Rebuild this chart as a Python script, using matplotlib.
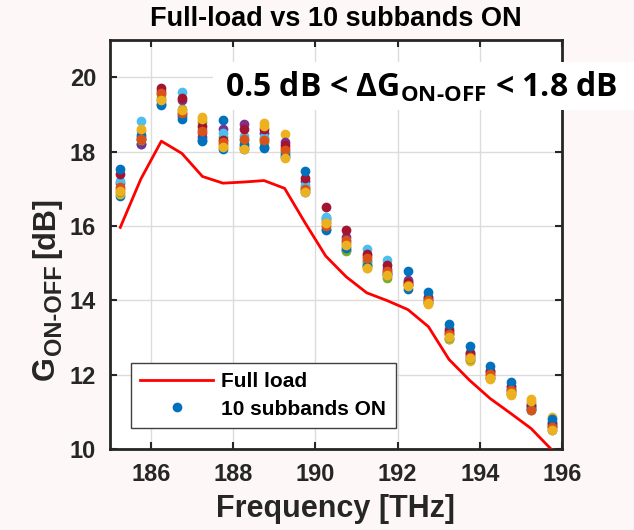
import matplotlib
matplotlib.use('Agg')
from matplotlib import pyplot as plt
from matplotlib.patches import Rectangle
from matplotlib.lines import Line2D
from matplotlib.transforms import IdentityTransform
import numpy as np

plt.rcParams['mathtext.fontset'] = 'custom'
plt.rcParams['mathtext.rm'] = 'Open Sans:bold'
plt.rcParams['mathtext.bf'] = 'Open Sans:bold'

freq = [185.25, 185.75, 186.25, 186.75, 187.25, 187.75, 188.25, 188.75, 189.25, 189.75, 190.25,
        190.75, 191.25, 191.75, 192.25, 192.75, 193.25, 193.75, 194.25, 194.75, 195.25, 195.75]

full_load = [15.96, 17.26, 18.28, 17.95, 17.33, 17.15, 17.18, 17.22, 17.01, 16.08, 15.19,
             14.63, 14.20, 13.99, 13.75, 13.29, 12.41, 11.85, 11.36, 10.96, 10.55, 9.98]

# 10 subbands ON, one list per measurement
sub1 = [16.80, 18.20, 19.26, 18.88, 18.28, 18.07, 18.07, 18.10, 17.85, 16.90, 15.90,
        15.35, 14.95, 14.70, 14.30, 13.92, 12.97, 12.40, 11.90, 11.48, 11.05, 10.52]
sub2 = [17.00, 18.40, 19.55, 19.00, 18.50, 18.20, 18.15, 18.35, 18.10, 17.05, 16.10,
        15.55, 15.20, 14.75, 14.45, 13.95, 13.10, 12.50, 12.00, 11.55, 11.10, 10.60]
sub3 = [16.85, 18.55, 19.40, 19.08, 18.93, 18.15, 18.10, 18.78, 18.46, 16.95, 16.05,
        15.45, 14.87, 14.65, 14.45, 13.91, 12.96, 12.38, 11.88, 11.46, 11.35, 10.85]
sub4 = [17.15, 18.19, 19.62, 19.38, 18.40, 18.62, 18.74, 18.50, 18.25, 17.20, 16.20,
        15.70, 15.05, 14.85, 14.55, 14.10, 13.15, 12.55, 12.08, 11.62, 11.15, 10.65]
sub5 = [16.92, 18.30, 19.45, 19.15, 18.80, 18.40, 18.30, 18.25, 17.95, 17.00, 16.15,
        15.32, 15.00, 14.60, 14.40, 14.00, 12.98, 12.42, 11.95, 11.52, 11.12, 10.62]
sub6 = [17.22, 18.82, 19.35, 19.60, 18.62, 18.50, 18.42, 18.40, 18.00, 17.10, 16.25,
        15.60, 15.38, 15.08, 14.50, 13.98, 13.25, 12.62, 12.12, 11.68, 11.25, 10.72]
sub7 = [17.40, 18.35, 19.72, 19.45, 18.70, 18.30, 18.62, 18.62, 18.18, 17.28, 16.50,
        15.88, 15.25, 14.95, 14.48, 14.05, 13.20, 12.58, 12.10, 11.70, 11.18, 10.70]
sub8 = [17.54, 18.45, 19.28, 18.95, 18.32, 18.84, 18.20, 18.12, 17.90, 17.49, 15.92,
        15.40, 14.92, 14.72, 14.78, 14.22, 13.35, 12.76, 12.22, 11.80, 11.08, 10.80]
sub9 = [17.05, 18.35, 19.58, 19.05, 18.55, 18.25, 18.35, 18.30, 18.05, 16.98, 16.00,
        15.62, 15.15, 14.80, 14.42, 14.02, 13.08, 12.48, 12.02, 11.58, 11.06, 10.58]
sub10 = [16.95, 18.62, 19.38, 19.12, 18.88, 18.12, 18.08, 18.70, 17.83, 16.92, 16.08,
         15.50, 14.88, 14.68, 14.38, 13.93, 13.00, 12.45, 11.92, 11.50, 11.30, 10.50]
subbands = [sub1, sub2, sub3, sub4, sub5, sub6, sub7, sub8, sub9, sub10]

colors = ['#0072BD', '#D95319', '#EDB120', '#7E2F8E', '#77AC30', '#4DBEEE', '#A2142F']
txt = '#262626'

fig = plt.figure(figsize=(6.34, 5.30), dpi=100, facecolor='#fdf8f7')
ax = fig.add_axes([0.1735, 0.1528, 0.7129, 0.7717])

ax.plot(freq, full_load, color='red', lw=2.0, zorder=3)
for i, s in enumerate(subbands):
    ax.plot(freq, s, 'o', color=colors[i % 7], ms=7, mec='none', zorder=2)

ax.set_xlim(185, 196)
ax.set_ylim(10, 21)
ax.set_xticks([186, 188, 190, 192, 194, 196])
ax.set_yticks([10, 12, 14, 16, 18, 20])
ax.grid(True, color='#dcdcdc', lw=1.0)
ax.set_axisbelow(True)
ax.tick_params(direction='in', top=True, right=True, length=5, width=1.5,
               color=txt, labelsize=17, labelcolor=txt, pad=10)
for lab in ax.get_xticklabels() + ax.get_yticklabels():
    lab.set_fontweight('bold')
    lab.set_family('Liberation Sans')
for sp in ax.spines.values():
    sp.set_linewidth(2.0)
    sp.set_color(txt)

ax.set_title('Full-load vs 10 subbands ON', fontsize=19.5, fontweight='bold',
             family='Liberation Sans', color='black', pad=10)
ax.set_xlabel('Frequency [THz]', fontsize=22, fontweight='bold',
              family='Liberation Sans', color=txt, labelpad=6)

# y label built from pieces so the subscript can be larger than mathtext allows
renderer = fig.canvas.get_renderer()
lab_kw = dict(rotation=90, rotation_mode='anchor', ha='left', va='baseline',
              fontweight='bold', family='Liberation Sans', color=txt,
              transform=IdentityTransform())
t1 = fig.text(54, 150, 'G', fontsize=22, **lab_kw)
y = t1.get_window_extent(renderer).y1
t2 = fig.text(61, y + 1, 'ON-OFF', fontsize=17, **lab_kw)
y = t2.get_window_extent(renderer).y1
fig.text(54, y + 6, '[dB]', fontsize=22, **lab_kw)

handles = [Line2D([], [], color='red', lw=2.0),
           Line2D([], [], ls='none', marker='o', color=colors[0], ms=7, mec='none')]
leg = ax.legend(handles, ['Full load', '10 subbands ON'], loc='lower left',
                bbox_to_anchor=(0.046, 0.051), borderaxespad=0, fancybox=False, framealpha=1,
                edgecolor='#404040', borderpad=0.45, handlelength=3.5, handletextpad=0.4,
                labelspacing=0.4,
                prop={'family': 'Liberation Sans', 'weight': 'bold', 'size': 15})
leg.get_frame().set_linewidth(1.0)

# white box with the gain range annotation
fig.add_artist(Rectangle((0.336, 0.7925), 0.664, 0.0905, transform=fig.transFigure,
                         facecolor='white', edgecolor='none', zorder=1))
fig.text(0.664, 0.836, r'0.5 dB < ΔG$_{\mathrm{ON\text{-}OFF}}$ < 1.8 dB',
         fontsize=23, fontweight='bold', family='Open Sans', color='black',
         ha='center', va='center', zorder=3)

fig.savefig('out.png', dpi=100, facecolor=fig.get_facecolor())
